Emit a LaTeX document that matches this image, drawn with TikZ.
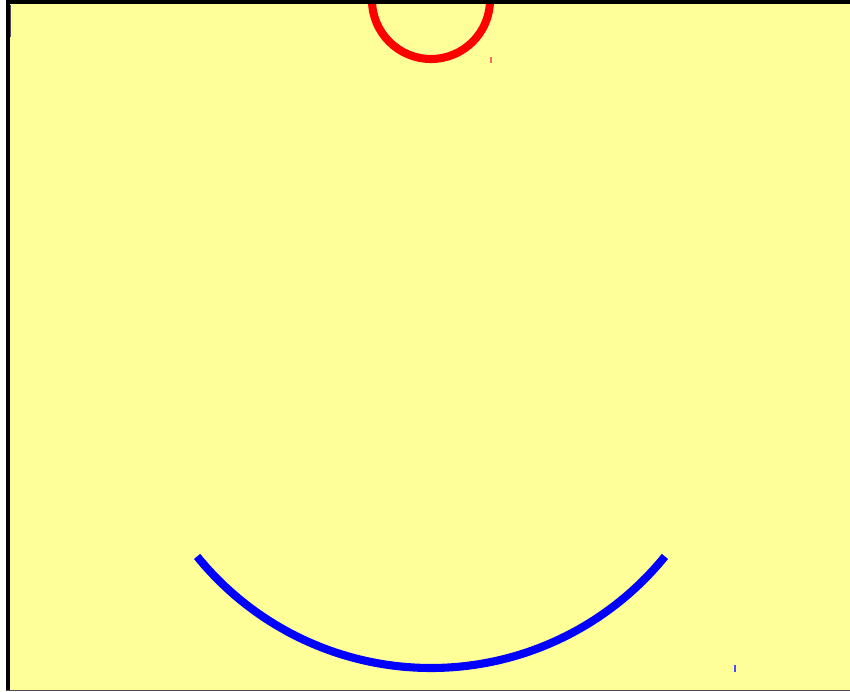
\documentclass[tikz,border=0pt]{standalone}
\usetikzlibrary{positioning,calc}

\definecolor{paper}{RGB}{255,255,153}

\begin{document}
\begin{tikzpicture}[x=0.02cm, y=0.02cm,
    frame/.style={fill=black},
    eye/.style={draw=red, line width=4.6pt},
    mouth/.style={draw=blue, line width=4.6pt},
    tick/.style={line width=0.8pt}]

    % Page and background
    \useasboundingbox (0,0) rectangle (850,691);
    \clip (0,0) rectangle (850,691);
    \fill[white] (0,0) rectangle (850,691);
    \fill[paper] (6,0) rectangle (850,687);

    % Centres
    \coordinate (top) at (431,691);
    \coordinate (mid) at (431,324);

    % Red circle, cut by the top edge
    \draw[eye] (top) circle[radius=59];
    \draw[tick, red!60] (491,628) -- (491,634);

    % Blue arc
    \draw[mouth] ($(mid)+(219:301)$) arc[start angle=219, end angle=321, radius=301];
    \draw[tick, blue!70] (735,19) -- (735,26);

    % Frame
    \fill[frame] (6,687) rectangle (850,691);
    \fill[frame] (6,0) rectangle (10,691);
    \fill[black!70] (10,654) rectangle (11,686);
    \fill[black!70] (6,0) rectangle (850,1.5);

\end{tikzpicture}
\end{document}
